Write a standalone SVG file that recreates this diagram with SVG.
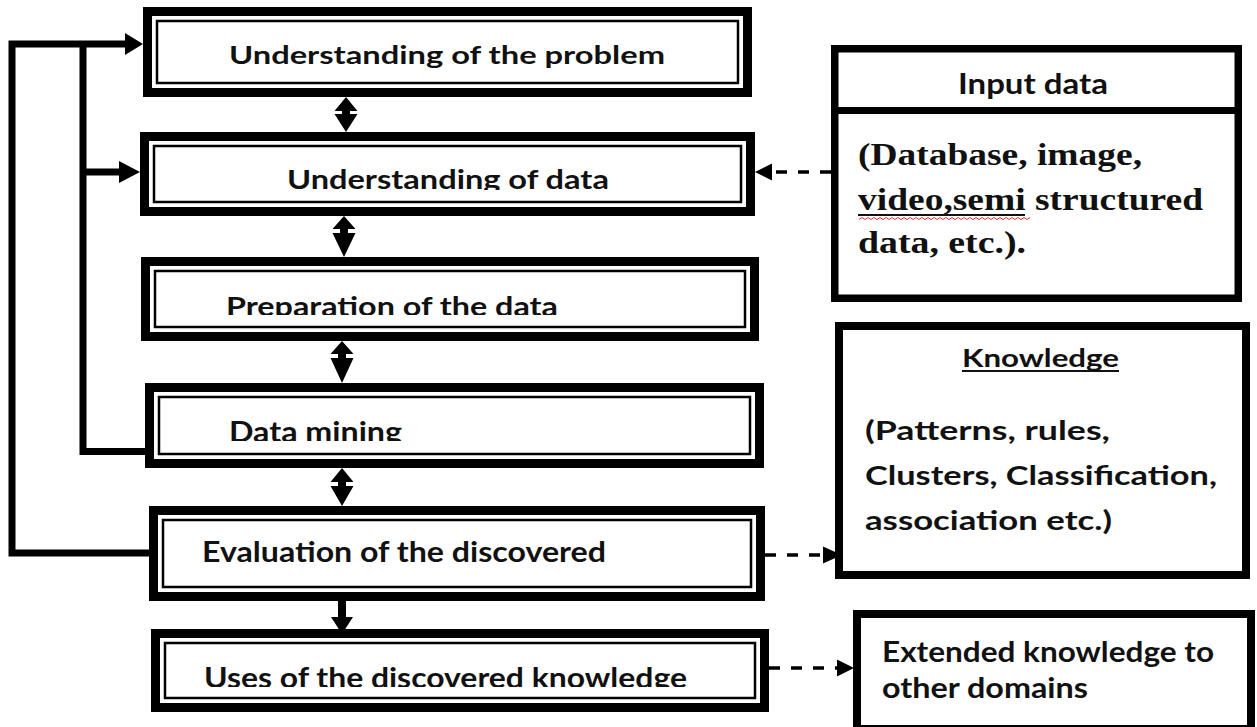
<svg xmlns="http://www.w3.org/2000/svg" width="1257" height="727" viewBox="0 0 1257 727">
<style>
  .outer { fill: #fff; stroke: #000; stroke-width: 9; }
  .inner { fill: none; stroke: #000; stroke-width: 2.5; }
  .rbox { fill: #fff; stroke: #000; }
  .t { font-family: Lato, "Liberation Sans", sans-serif; font-weight: bold; fill: #111; }
  .s { font-family: "Liberation Serif", serif; font-weight: bold; fill: #111; }
  .line { fill: none; stroke: #000; stroke-width: 7; }
  .dash { fill: none; stroke: #000; stroke-width: 3.5; stroke-dasharray: 11 11; }
  .head { fill: #000; }
</style>
<defs>
  <clipPath id="c2"><rect x="150" y="140" width="600" height="50"/></clipPath>
  <clipPath id="c3"><rect x="150" y="265" width="600" height="50"/></clipPath>
  <clipPath id="c4"><rect x="150" y="391" width="600" height="50"/></clipPath>
  <clipPath id="c6"><rect x="160" y="637" width="600" height="50"/></clipPath>
</defs>
<rect width="1257" height="727" fill="#fff"/>

<g id="n1">
  <rect class="outer" x="147.5" y="11.5" width="600" height="81"/>
  <rect class="inner" x="157" y="21" width="581" height="62"/>
  <text class="t" x="229" y="64" font-size="25.5" textLength="436" lengthAdjust="spacingAndGlyphs">Understanding of the problem</text>
</g>
<g id="n2">
  <rect class="outer" x="144.5" y="136.5" width="606" height="75"/>
  <rect class="inner" x="154" y="146" width="587" height="56"/>
  <text class="t" x="287" y="189" font-size="27.5" textLength="322" lengthAdjust="spacingAndGlyphs" clip-path="url(#c2)">Understanding of data</text>
</g>
<g id="n3">
  <rect class="outer" x="145.5" y="261.5" width="609" height="75"/>
  <rect class="inner" x="155" y="271" width="590" height="56"/>
  <text class="t" x="226" y="316" font-size="27.5" textLength="332" lengthAdjust="spacingAndGlyphs" clip-path="url(#c3)">Preparation of the data</text>
</g>
<g id="n4">
  <rect class="outer" x="149.5" y="387.5" width="610" height="76"/>
  <rect class="inner" x="159" y="397" width="591" height="57"/>
  <text class="t" x="229" y="442" font-size="28" textLength="173" lengthAdjust="spacingAndGlyphs" clip-path="url(#c4)">Data mining</text>
</g>
<g id="n5">
  <rect class="outer" x="153.5" y="510.5" width="607" height="86"/>
  <rect class="inner" x="163" y="520" width="588" height="67"/>
  <text class="t" x="202" y="562" font-size="28" textLength="404" lengthAdjust="spacingAndGlyphs">Evaluation of the discovered</text>
</g>
<g id="n6">
  <rect class="outer" x="155.5" y="633.5" width="609" height="74"/>
  <rect class="inner" x="165" y="643" width="590" height="55"/>
  <text class="t" x="204" y="688" font-size="29" textLength="483" lengthAdjust="spacingAndGlyphs" clip-path="url(#c6)">Uses of the discovered knowledge</text>
</g>

<g id="input">
  <rect class="rbox" x="834.75" y="48.75" width="403.5" height="249.5" stroke-width="7.5"/>
  <line x1="831" y1="110.5" x2="1242" y2="110.5" stroke="#000" stroke-width="7"/>
  <text class="t" x="958" y="94" font-size="28" textLength="150" lengthAdjust="spacingAndGlyphs">Input data</text>
  <text class="s" x="858" y="165" font-size="31" textLength="284" lengthAdjust="spacingAndGlyphs">(Database, image,</text>
  <text class="s" x="858" y="210" font-size="31" textLength="345" lengthAdjust="spacingAndGlyphs">video,semi structured</text>
  <text class="s" x="858" y="253" font-size="31" textLength="168" lengthAdjust="spacingAndGlyphs">data, etc.).</text>
  <line x1="858" y1="215" x2="1025" y2="215" stroke="#111" stroke-width="1.8"/>
  <path d="M859,219.5 l3,-2 l3,2 l3,-2 l3,2 l3,-2 l3,2 l3,-2 l3,2 l3,-2 l3,2 l3,-2 l3,2 l3,-2 l3,2 l3,-2 l3,2 l3,-2 l3,2 l3,-2 l3,2 l3,-2 l3,2 l3,-2 l3,2 l3,-2 l3,2 l3,-2 l3,2 l3,-2 l3,2 l3,-2 l3,2 l3,-2 l3,2 l3,-2 l3,2 l3,-2 l3,2 l3,-2 l3,2 l3,-2 l3,2 l3,-2 l3,2 l3,-2 l3,2 l3,-2 l3,2 l3,-2 l3,2 l3,-2 l3,2 l3,-2 l3,2 l3,-2 l3,2 l3,-2" fill="none" stroke="#d33" stroke-width="1"/>
</g>

<g id="knowledge">
  <rect class="rbox" x="839" y="326" width="407" height="249" stroke-width="8"/>
  <text class="t" x="962" y="367" font-size="25" textLength="157" lengthAdjust="spacingAndGlyphs">Knowledge</text>
  <line x1="962" y1="371" x2="1119" y2="371" stroke="#111" stroke-width="2"/>
  <text class="t" x="865" y="440" font-size="27.5" textLength="245" lengthAdjust="spacingAndGlyphs">(Patterns, rules,</text>
  <text class="t" x="865" y="485" font-size="27.5" textLength="352" lengthAdjust="spacingAndGlyphs">Clusters, Classification,</text>
  <text class="t" x="865" y="530" font-size="27.5" textLength="247" lengthAdjust="spacingAndGlyphs">association etc.)</text>
</g>

<g id="extended">
  <rect class="rbox" x="857" y="614" width="394" height="115" stroke-width="8"/>
  <text class="t" x="882" y="662" font-size="29" textLength="332" lengthAdjust="spacingAndGlyphs">Extended knowledge to</text>
  <text class="t" x="882" y="698" font-size="29" textLength="206" lengthAdjust="spacingAndGlyphs">other domains</text>
</g>

<g id="connectors">
  <path class="line" d="M149,553 H12 V44 H127"/>
  <polygon class="head" points="125,33 143,44 125,55"/>
  <path class="line" d="M146,451.5 H83 V44"/>
  <path class="line" d="M83,172 H121"/>
  <polygon class="head" points="119,161 140,172 119,183"/>
  <path class="head" d="M346,97 L357.5,111 L350,111 L350,114 L357.5,114 L346,132 L334.5,114 L342,114 L342,111 L334.5,111 Z"/>
  <path class="head" d="M344,216 L355.5,229 L348,229 L348,233 L355.5,233 L344,257 L332.5,233 L340,233 L340,229 L332.5,229 Z"/>
  <path class="head" d="M342,341 L353.5,354 L346,354 L346,358 L353.5,358 L342,383 L330.5,358 L338,358 L338,354 L330.5,354 Z"/>
  <path class="head" d="M342,468 L353.5,482 L346,482 L346,486 L353.5,486 L342,506 L330.5,486 L338,486 L338,482 L330.5,482 Z"/>
  <path class="head" d="M338,600 H346 V617 H353 L342,634 L331,617 H338 Z"/>
  <line class="dash" x1="831" y1="172" x2="772" y2="172"/>
  <polygon class="head" points="772,163.5 755,172 772,180.5"/>
  <line class="dash" x1="765" y1="555" x2="823" y2="555"/>
  <polygon class="head" points="823,546.5 842,555 823,563.5"/>
  <line class="dash" x1="769" y1="668" x2="838" y2="668"/>
  <polygon class="head" points="837,659.5 854,668 837,676.5"/>
</g>
</svg>
